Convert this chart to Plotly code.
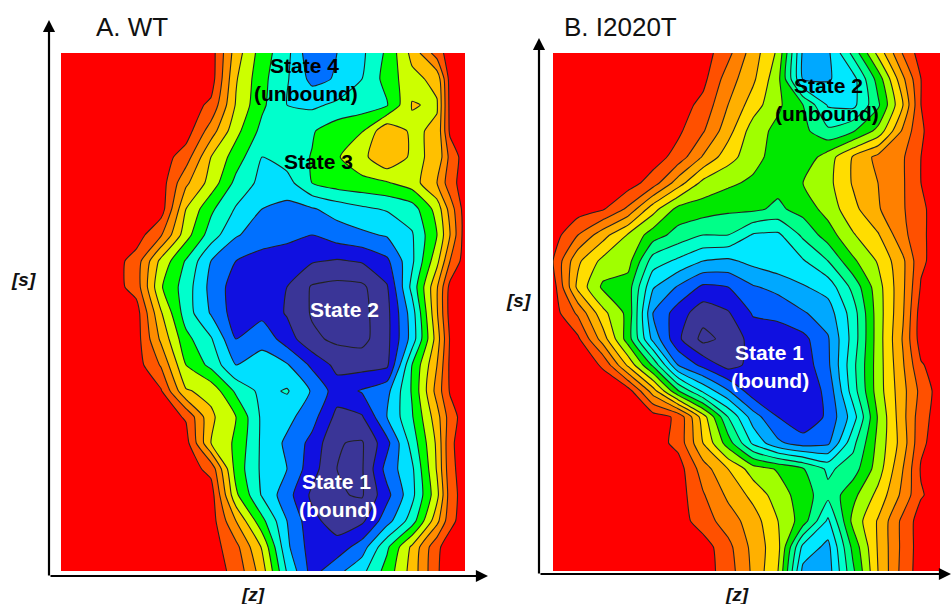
import plotly.graph_objects as go

W, H = 952, 604

# ---- Panel A (WT): free-energy band index
z_a = [61,86,111,136,161,186,211,236,262,287,312,337,362,387,412,437,450,465]
s_a = [53,79,105,131,157,183,209,235,261,287,313,339,365,391,417,443,469,495,521,547,571]
energy_a = [
 [11,11,11,11,11,11,11,8.0,6.0,4.8,2.7,3.5,4.3,5.7,7.8,10,11,11],
 [11,11,11,11,11,11,11,7.6,5.8,4.6,3.2,3.6,4.5,5.9,7.2,7.8,10.9,11],
 [11,11,11,11,11,11,10.3,7.4,5.7,4.5,4.3,4.7,5.0,5.4,7.55,7.4,10.8,11],
 [11,11,11,11,11,11,9.0,6.8,5.2,4.9,5.4,6.1,6.45,8.3,7.3,7.7,10.7,11],
 [11,11,11,11,11,10,7.5,6.0,4.5,5.0,5.55,6.4,7.2,8.4,7.3,7.7,9.8,11],
 [11,11,11,11,11,8.7,7.1,5.2,4.2,4.1,5.5,6.0,6.2,6.4,7.0,8.5,10.1,11],
 [11,11,11,11,11,7.5,5.7,4.4,3.5,3.2,3.4,3.9,4.3,4.6,5.0,6.9,8.9,11],
 [11,11,11,11,9.6,6.9,5.0,3.6,3.0,2.7,2.5,3.0,3.3,3.6,4.4,6.5,8.5,11],
 [11,11,11,10.1,7.2,5.4,3.5,2.5,2.1,2.1,1.6,1.4,1.6,2.3,4.3,7.2,9.5,11],
 [11,11,11,10.1,6.6,5.0,3.2,2.0,1.9,1.5,0.4,0.2,0.3,1.4,4.8,8.4,10.8,11],
 [11,11,11,11,7.6,5.0,3.4,2.0,2.2,1.4,0.4,0.0,0.2,1.2,4.0,8.4,10.9,11],
 [11,11,11,11,8.3,5.8,4.6,2.5,3.2,2.0,0.7,0.3,0.2,1.2,3.9,8.0,10.6,11],
 [11,11,11,11,9.4,6.5,5.2,3.5,3.9,3.6,2.3,1.2,1.1,1.3,5.5,8.5,10.7,11],
 [11,11,11,11,10.6,7.6,7.2,5.3,4.2,4.6,3.4,2.0,2.6,3.2,5.6,8.9,10.6,11],
 [11,11,11,11,11,10.4,7.7,6.5,4.3,3.8,2.9,1.2,1.4,3.5,5.4,8.1,10,11],
 [11,11,11,11,11,10.9,7.5,6.3,4.3,3.3,2.2,0.55,0.4,2.2,4.9,7.7,10.3,11],
 [11,11,11,11,11,11,10.2,6.1,4.3,3.5,1.9,0.5,0.4,2.9,4.3,7.6,10.2,11],
 [11,11,11,11,11,11,11,6.7,4.4,2.9,1.3,0.6,0.4,2.2,4.2,7.2,10,11],
 [11,11,11,11,11,11,11,8.5,5.8,3.5,1.8,1.0,1.3,3.1,5.0,8.2,10.2,11],
 [11,11,11,11,11,11,11,9.8,7.4,3.7,2.0,1.9,3.0,5.3,7.7,10.3,11,11],
 [11,11,11,11,11,11,11,10.2,8,4.4,2.1,3.2,4.2,5.9,7.9,10.4,11,11],
]
colors_a = ["#3a3597","#3a3597","#1010e0","#0070ff","#00e0ff","#00ffcc",
            "#00ff00","#ccff00","#ffc000","#ff8c00","#ff5500","#ff0000"]

# ---- Panel B (I2020T)
z_b = [553,578,603,628,653,678,703,728,753,778,803,828,853,878,903,921,940]
s_b = s_a
energy_b = [
 [14,14,14,14,14,14,14,12.8,11,9.3,4.3,4.3,6.8,9.8,12.6,14,14],
 [14,14,14,14,14,14,13.8,12,10.7,8.8,4.4,4.4,5.1,7.9,11.3,13.5,14],
 [14,14,14,14,14,14,13.2,11.5,10,8.7,7.5,5.4,5.2,7.3,10.5,13.5,14],
 [14,14,14,14,14,13.7,12.6,10.9,9,8.2,7.8,6.7,7.4,8.8,11.7,13.4,14],
 [14,14,14,14,14,13.1,11.4,9.9,8.9,8,7.8,9,10.6,11.8,12.4,13.5,14],
 [14,14,14,14,13,11,9.2,8.7,8.3,7.8,8.5,9.2,10.6,11.5,12.4,13.5,14],
 [14,14,13.6,12.3,9.9,8.2,8,7.7,7.7,7.3,7.9,8.9,10.2,11.4,12.4,13.3,14],
 [14,12.5,10.9,9.4,8,7.1,6.5,6.5,5.4,5.3,6.7,8,9.4,10.4,12.2,13.3,14],
 [13.5,10.7,9.2,8.9,6,5.3,4.5,4.3,4.8,5.2,5.4,6.5,8.3,9.6,11.3,13.3,14],
 [14,10.2,8.3,8,4.6,3.4,2.3,2.5,3.4,3.8,4.4,4.9,6.8,9.1,11.3,13.6,14],
 [14,12.3,9.8,8.2,3.5,2,0.9,1.4,2.6,2.8,3.4,4,6,9,11.4,14,14],
 [14,13.7,11,8,4.2,1.7,0.2,0.8,1.9,1.9,2.2,3.4,5.9,9,11.6,14,14],
 [14,14,13.4,10.3,7.3,3.5,2.2,1.1,1.8,1.7,1.9,3.3,6.2,9,11.4,13.4,14],
 [14,14,14,14,11,7.6,5.3,3.6,1.9,1.6,1.7,2.8,6,9,11.2,12.8,14],
 [14,14,14,14,14,13.3,10,6.5,4,2.5,1.7,2.7,5,8.6,11.2,13.1,14],
 [14,14,14,14,14,13.2,10.5,8,5.3,3.7,3,3.3,6.2,8.8,11,13.3,14],
 [14,14,14,14,14,14,12,10.5,9,8.4,7.6,6.3,7,9,11.5,13.6,14],
 [14,14,14,14,14,14,12.6,11.3,10.2,9,8,6.8,8.2,9.8,11.8,13.4,14],
 [14,14,14,14,14,14,13,12,11,9.5,8,5.3,8.8,10.6,12.8,14,14],
 [14,14,14,14,14,14,14,12.8,11.2,9.8,5.2,4.2,7.8,10.6,12.8,14,14],
 [14,14,14,14,14,14,14,13,11.3,9.5,4.2,4,7.3,10.5,12.9,14,14],
]
colors_b = ["#3a3597","#3a3597","#1010e0","#0060ff","#00a8ff","#00e8ff","#00ffcc",
            "#00ff88","#00e800","#a0ff00","#ffdd00","#ffb000","#ff8000","#ff5000","#ff0000"]

labels_white = [("State 2",344,309),("State 1",336,481),("(bound)",338,509),
                ("State 1",769,352),("(bound)",770,380)]
labels_black = [("State 4",304,65),("(unbound)",306,93),("State 3",318,162),
                ("State 2",828,85),("(unbound)",827,113)]
titles = [("A. WT",94,27),("B. I2020T",562,27)]
axis_names = [("[s]",23,280),("[z]",253,594),("[s]",518,300),("[z]",737,594)]

def scale(cols):
    n = len(cols) - 1
    return [[i / n, c] for i, c in enumerate(cols)]

def contour(x, y, z, cols, xa, ya):
    n = len(cols) - 1
    return go.Contour(x=x, y=y, z=z, xaxis=xa, yaxis=ya, zmin=0, zmax=n,
                      colorscale=scale(cols), showscale=False, hoverinfo="skip",
                      autocontour=False,
                      contours=dict(start=0.5, end=n - 0.5, size=1, coloring="fill"),
                      line=dict(color="#222222", width=1.1, smoothing=0.5))

fig = go.Figure()
fig.add_trace(contour(z_a, s_a, energy_a, colors_a, "x", "y"))
fig.add_trace(contour(z_b, s_b, energy_b, colors_b, "x2", "y2"))

def px(x): return x / W
def py(y): return 1 - y / H

hidden = dict(visible=False, showgrid=False, zeroline=False)
fig.update_layout(
    width=W, height=H, autosize=False, margin=dict(l=0, r=0, t=0, b=0),
    paper_bgcolor="white", plot_bgcolor="white", showlegend=False,
    font=dict(family="Liberation Sans"),
    xaxis=dict(domain=[px(61), px(465)], range=[61, 465], **hidden),
    yaxis=dict(domain=[py(571), py(53)], range=[571, 53], **hidden),
    xaxis2=dict(domain=[px(553), px(940)], range=[553, 940], **hidden),
    yaxis2=dict(domain=[py(571), py(53)], range=[571, 53], **hidden),
)

def text(t, x, y, size, color="black", bold=False, italic=False):
    s = t
    if bold: s = f"<b>{s}</b>"
    if italic: s = f"<i>{s}</i>"
    fig.add_annotation(text=s, x=px(x), y=py(y), xref="paper", yref="paper",
                       showarrow=False, xanchor="center", yanchor="middle",
                       font=dict(size=size, color=color))

for t, x, y in labels_white: text(t, x, y, 21, "white", bold=True)
for t, x, y in labels_black: text(t, x, y, 21, "black", bold=True)
for t, x, y in titles:
    fig.add_annotation(text=t, x=px(x), y=py(y), xref="paper", yref="paper",
                       showarrow=False, xanchor="left", yanchor="middle",
                       font=dict(size=26, color="#111111"))
for t, x, y in axis_names: text(t, x, y, 19, "#111111", bold=True, italic=True)

def arrow(x0, y0, x1, y1):
    fig.add_annotation(x=px(x1), y=py(y1), xref="paper", yref="paper",
                       ax=x0 - x1, ay=y0 - y1, axref="pixel", ayref="pixel",
                       text="", showarrow=True, arrowhead=2, arrowsize=1.1,
                       arrowwidth=2.2, arrowcolor="black")

arrow(49, 577, 49, 20)
arrow(49, 576, 488, 576)
arrow(539, 575, 539, 38)
arrow(539, 574, 952, 574)

fig.write_html("out.html", config={"displayModeBar": False},
               post_script="document.body.style.margin='0';document.body.style.overflow='hidden';")
